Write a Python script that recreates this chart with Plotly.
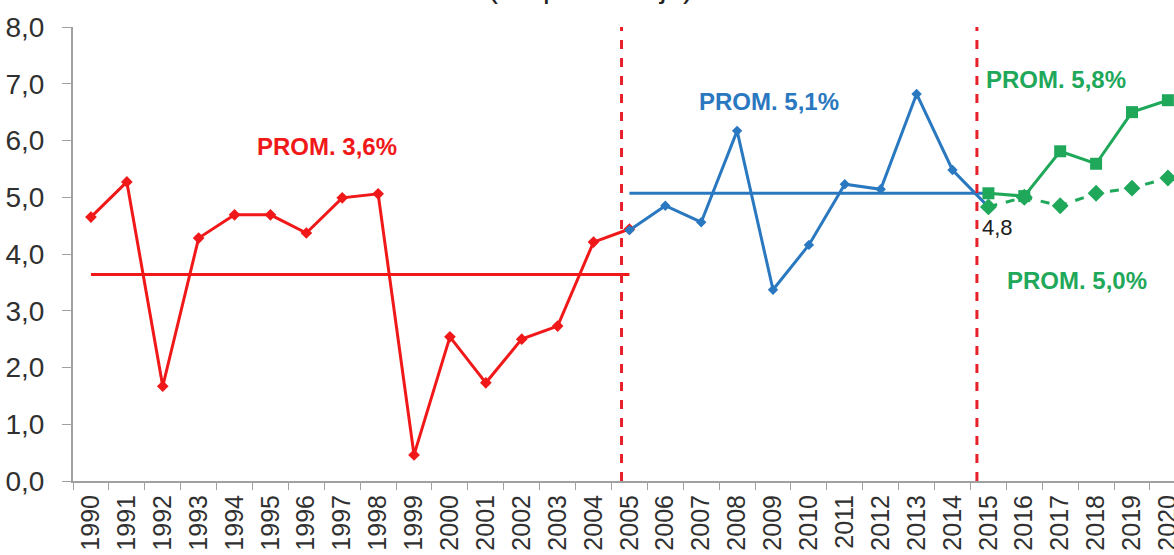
import plotly.graph_objects as go

# categorias del eje x
anios = ["1990", "1991", "1992", "1993", "1994", "1995", "1996", "1997",
         "1998", "1999", "2000", "2001", "2002", "2003", "2004", "2005",
         "2006", "2007", "2008", "2009", "2010", "2011", "2012", "2013",
         "2014", "2015", "2016", "2017", "2018", "2019", "2020"]

# periodo 1990-2005
anios_p1 = anios[0:16]
valores_p1 = [4.65, 5.27, 1.67, 4.28, 4.69, 4.69, 4.37, 4.99,
              5.06, 0.46, 2.54, 1.73, 2.50, 2.73, 4.21, 4.44]
prom_p1 = 3.64

# periodo 2005-2015
anios_p2 = anios[15:26]
valores_p2 = [4.42, 4.85, 4.56, 6.17, 3.37, 4.16, 5.23, 5.14, 6.82, 5.48, 4.83]
prom_p2 = 5.07

# proyeccion 2015-2020
anios_p3 = anios[25:31]
valores_p3_alto = [5.07, 5.02, 5.81, 5.59, 6.50, 6.71]
valores_p3_bajo = [4.83, 5.00, 4.85, 5.07, 5.16, 5.34]

# separadores de periodos (posicion en el eje de categorias)
cortes = [14.78, 24.68]

ROJO = "#f01818"
AZUL = "#2a78c0"
VERDE = "#1fa85a"
FUENTE = "Liberation Sans, Arial, sans-serif"

fig = go.Figure()

# lineas de promedio
fig.add_trace(go.Scatter(x=[anios_p1[0], anios_p1[-1]], y=[prom_p1, prom_p1],
                         mode="lines", line=dict(color=ROJO, width=3)))
fig.add_trace(go.Scatter(x=[anios_p2[0], anios_p2[-1]], y=[prom_p2, prom_p2],
                         mode="lines", line=dict(color=AZUL, width=3)))

# series
fig.add_trace(go.Scatter(x=anios_p1, y=valores_p1, mode="lines+markers",
                         line=dict(color=ROJO, width=3),
                         marker=dict(symbol="diamond", size=9, color=ROJO)))
fig.add_trace(go.Scatter(x=anios_p2, y=valores_p2, mode="lines+markers",
                         line=dict(color=AZUL, width=3),
                         marker=dict(symbol="diamond", size=8, color=AZUL)))
fig.add_trace(go.Scatter(x=anios_p3, y=valores_p3_bajo, mode="lines+markers",
                         line=dict(color=VERDE, width=3, dash="dash"),
                         marker=dict(symbol="diamond", size=13, color=VERDE)))
fig.add_trace(go.Scatter(x=anios_p3, y=valores_p3_alto, mode="lines+markers",
                         line=dict(color=VERDE, width=3),
                         marker=dict(symbol="square", size=12, color=VERDE)))

for c in cortes:
    fig.add_shape(type="line", xref="x", yref="paper", x0=c, x1=c, y0=0, y1=1,
                  line=dict(color="#e8202a", width=3, dash="dash"), layer="above")

# textos
notas = [
    ("PROM. 3,6%", 6.58, 5.89, ROJO, True),
    ("PROM. 5,1%", 18.89, 6.68, AZUL, True),
    ("PROM. 5,8%", 26.88, 7.08, VERDE, True),
    ("PROM. 5,0%", 27.47, 3.54, VERDE, True),
    ("4,8", 25.24, 4.46, "#202020", False),
]
for txt, x, y, col, negrita in notas:
    fig.add_annotation(x=x, y=y, xref="x", yref="y", showarrow=False,
                       text=f"<b>{txt}</b>" if negrita else txt,
                       font=dict(family=FUENTE, size=24 if negrita else 22, color=col))

fig.add_annotation(text="(En porcentaje)", xref="paper", yref="paper",
                   x=0.47, y=1, yshift=21, yanchor="bottom", showarrow=False,
                   font=dict(family=FUENTE, size=30, color="#202020"))

fig.update_layout(
    width=1174, height=555,
    margin=dict(l=73, r=0, t=27, b=74),
    plot_bgcolor="white", paper_bgcolor="white",
    showlegend=False,
    separators=",.",
    font=dict(family=FUENTE, color="#404040"),
)
fig.update_xaxes(type="category", categoryorder="array", categoryarray=anios,
                 range=[-0.5, 30.17], tickson="boundaries", ticks="outside",
                 ticklen=7, tickcolor="#a0a0a0", showline=True, linecolor="#a0a0a0",
                 linewidth=2, showgrid=False, tickangle=-90, automargin=False,
                 ticklabelstandoff=2,
                 tickfont=dict(size=25, color="#303030"))
fig.update_yaxes(range=[0, 8], dtick=1, tickformat=".1f", ticks="outside",
                 ticklen=9, tickcolor="#a0a0a0", showline=True, linecolor="#a0a0a0",
                 linewidth=2, showgrid=False, zeroline=False, automargin=False,
                 ticklabelstandoff=12,
                 tickfont=dict(size=28, color="#303030"))

# sin margen de pagina para que el grafico quede en la esquina
fig.write_html("out.html", config={"displayModeBar": False},
               post_script="document.body.style.margin='0';")
